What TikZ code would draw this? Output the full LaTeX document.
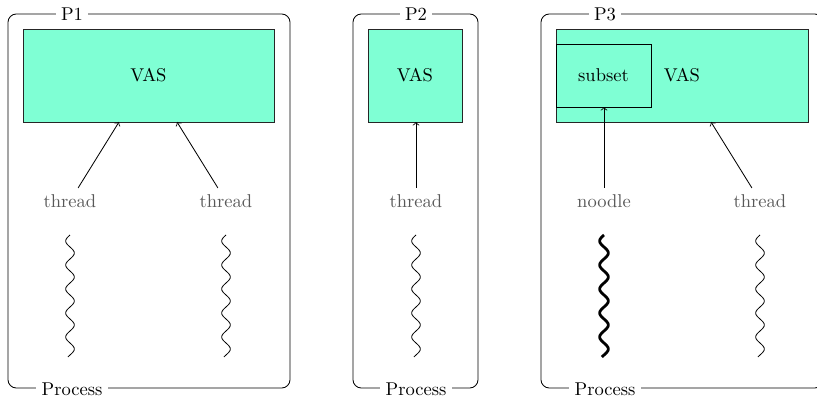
\documentclass[tikz,border=0pt]{standalone}
\usetikzlibrary{fit}
\definecolor{vasfill}{HTML}{7FFFD4}
\definecolor{lblgray}{HTML}{585858}
\begin{document}
\begin{tikzpicture}[x=0.54pt,y=-0.54pt,
  procframe/.style={draw=black, line width=0.45pt, rounded corners=4.5pt},
  framelabel/.style={fill=white, inner xsep=3pt, inner ysep=1pt},
  vasbox/.style={draw=black!85, fill=vasfill, inner sep=0pt, line width=0.45pt},
  subsetbox/.style={draw=black, fill=vasfill, inner sep=0pt, line width=0.45pt},
  threadlbl/.style={text=lblgray},
  link/.style={->, line width=0.45pt},
  wave/.style={line width=0.45pt},
  noodlewave/.style={line width=1.5pt}]
\useasboundingbox (0,0) rectangle (817,400);
\clip (0,0) rectangle (817,400);

% a vertical sine wave hanging below a point: #1 = top coordinate, #2 = style
\newcommand\drawwave[2]{%
  \draw[#2, shift={(#1)}] plot[domain=0:122, samples=160, smooth]
    ({-4.3*sin(\x*15)}, {\x});}

% ---- process P1: two threads sharing one address space
\draw[procframe] (8,14) rectangle (290,388);
\node[framelabel] (p1) at (72,14) {P1};
\node[framelabel] (proc1) at (72,389) {Process};
\node[vasbox, fit={(23,29) (274,122)}] (vas1) {};
\node (vas1t) at (vas1.center) {VAS};
\node[threadlbl] (th1a) at (70,201) {thread};
\node[threadlbl] (th1b) at (226,201) {thread};
\coordinate (in1a) at (119,122);
\coordinate (in1b) at (177,122);
\draw[link] (th1a) -- (in1a);
\draw[link] (th1b) -- (in1b);
\coordinate (w1a) at (70,235);
\coordinate (w1b) at (226,235);
\drawwave{w1a}{wave}
\drawwave{w1b}{wave}

% ---- process P2: a single thread
\draw[procframe] (353,14) rectangle (478,388);
\node[framelabel] (p2) at (416,14) {P2};
\node[framelabel] (proc2) at (416,389) {Process};
\node[vasbox, fit={(368,29) (462,122)}] (vas2) {};
\node (vas2t) at (vas2.center) {VAS};
\node[threadlbl] (th2) at (416,201) {thread};
\coordinate (in2) at (416,122);
\draw[link] (th2) -- (in2);
\coordinate (w2) at (416,235);
\drawwave{w2}{wave}

% ---- process P3: a noodle bound to a subset of the address space
\draw[procframe] (541,14) rectangle (823,388);
\node[framelabel] (p3) at (605,14) {P3};
\node[framelabel] (proc3) at (605,389) {Process};
\node[vasbox, fit={(556,29) (808,122)}] (vas3) {};
\node (vas3t) at (vas3.center) {VAS};
\node[subsetbox, fit={(556,44) (651,107)}] (sub3) {};
\node (sub3t) at (sub3.center) {subset};
\node[threadlbl] (nd3) at (604,201) {noodle};
\node[threadlbl] (th3) at (760,201) {thread};
\coordinate (in3a) at (604,107);
\coordinate (in3b) at (711,122);
\draw[link] (nd3) -- (in3a);
\draw[link] (th3) -- (in3b);
\coordinate (w3a) at (604,235);
\coordinate (w3b) at (760,235);
\drawwave{w3a}{noodlewave}
\drawwave{w3b}{wave}
\end{tikzpicture}
\end{document}
